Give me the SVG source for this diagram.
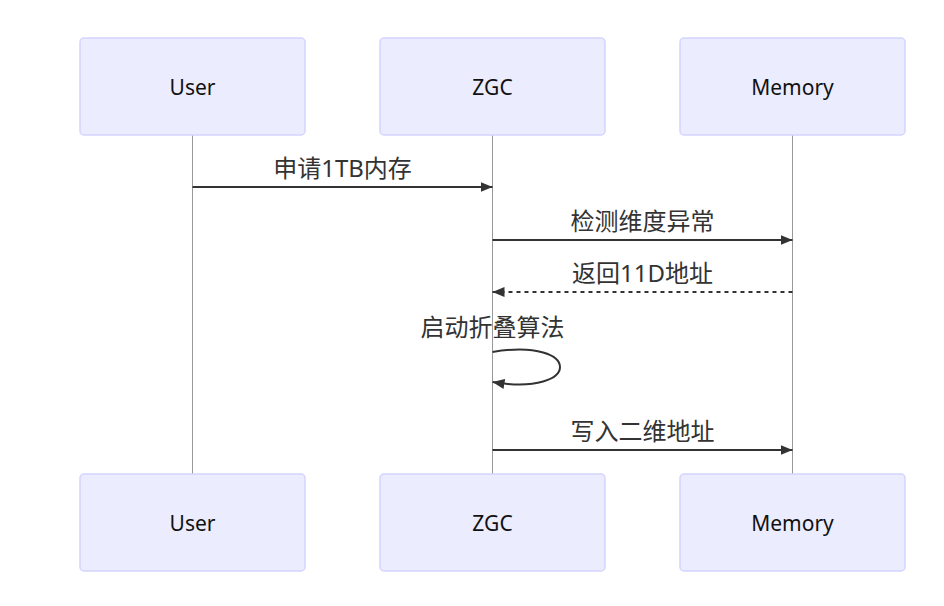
<svg xmlns="http://www.w3.org/2000/svg" width="944" height="606" viewBox="0 0 944 606">
  <style>
    .actor rect { fill: #ECECFF; stroke: #D4D4FF; stroke-width: 1.5; }
    .actor text { font-family: "Noto Sans", "Open Sans", sans-serif; font-size: 21px; fill: #111; text-anchor: middle; dominant-baseline: central; }
    .lifeline { stroke: #999; stroke-width: 1; }
    .msg { stroke: #333; stroke-width: 2; fill: none; }
    .dashed { stroke-dasharray: 4 4; }
    .label { font-family: "Noto Sans", "Noto Sans CJK SC", sans-serif; font-size: 24px; fill: #333; text-anchor: middle; }
  </style>
  <defs>
    <marker id="arrowhead" viewBox="0 0 12 10" refX="12" refY="5" markerWidth="12" markerHeight="10" markerUnits="userSpaceOnUse" orient="auto">
      <path d="M0,0 L12,5 L0,10 z" fill="#333"/>
    </marker>
  </defs>
  <rect width="944" height="606" fill="#fff"/>

  <!-- lifelines -->
  <g id="lifelines">
    <line class="lifeline" x1="192.5" y1="135" x2="192.5" y2="474"/>
    <line class="lifeline" x1="492.5" y1="135" x2="492.5" y2="474"/>
    <line class="lifeline" x1="792.5" y1="135" x2="792.5" y2="474"/>
  </g>

  <!-- participants, top -->
  <g id="user-top" class="actor"><rect x="80" y="38" width="225" height="97" rx="4"/><text x="192.5" y="87">User</text></g>
  <g id="zgc-top" class="actor"><rect x="380" y="38" width="225" height="97" rx="4"/><text x="492.5" y="87">ZGC</text></g>
  <g id="memory-top" class="actor"><rect x="680" y="38" width="225" height="97" rx="4"/><text x="792.5" y="87">Memory</text></g>

  <!-- participants, bottom -->
  <g id="user-bottom" class="actor"><rect x="80" y="474" width="225" height="97" rx="4"/><text x="192.5" y="523">User</text></g>
  <g id="zgc-bottom" class="actor"><rect x="380" y="474" width="225" height="97" rx="4"/><text x="492.5" y="523">ZGC</text></g>
  <g id="memory-bottom" class="actor"><rect x="680" y="474" width="225" height="97" rx="4"/><text x="792.5" y="523">Memory</text></g>

  <!-- messages -->
  <g id="connectors">
    <line class="msg" x1="192.5" y1="187" x2="492.5" y2="187" marker-end="url(#arrowhead)"/>
    <line class="msg" x1="492.5" y1="240" x2="792.5" y2="240" marker-end="url(#arrowhead)"/>
    <line class="msg dashed" x1="792.5" y1="292" x2="492.5" y2="292" marker-end="url(#arrowhead)"/>
    <path class="msg" d="M492.5,352 C582.5,337 582.5,397 492.5,382" marker-end="url(#arrowhead)"/>
    <line class="msg" x1="492.5" y1="450" x2="792.5" y2="450" marker-end="url(#arrowhead)"/>
  </g>

  <g id="labels">
    <text class="label" x="342.5" y="177">申请1TB内存</text>
    <text class="label" x="642.5" y="230">检测维度异常</text>
    <text class="label" x="642.5" y="282">返回11D地址</text>
    <text class="label" x="492.5" y="336">启动折叠算法</text>
    <text class="label" x="642.5" y="440">写入二维地址</text>
  </g>
</svg>
